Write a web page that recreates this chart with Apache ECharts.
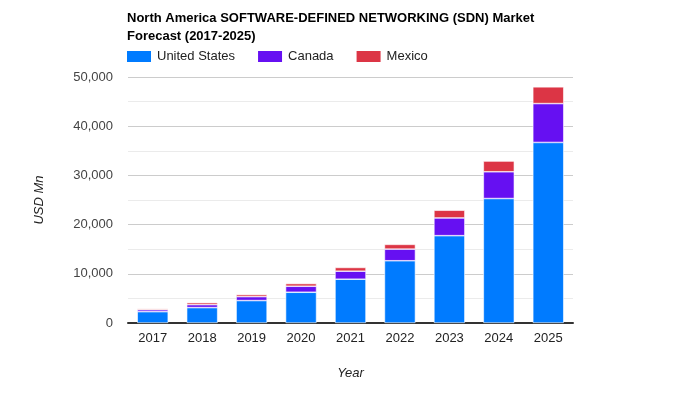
<!DOCTYPE html>
<html>
<head>
<meta charset="utf-8">
<script src="https://cdn.jsdelivr.net/npm/echarts@6/dist/echarts.min.js"></script>
<style>html,body{margin:0;padding:0;background:#fff}#c{width:700px;height:400px}</style>
</head>
<body>
<div id="c"></div>
<script>
var years = ['2017','2018','2019','2020','2021','2022','2023','2024','2025'];
var unitedStates = [2300, 3130, 4560, 6250, 8900, 12650, 17750, 25300, 36700];
var canada = [400, 600, 800, 1220, 1630, 2370, 3600, 5440, 7900];
var mexico = [220, 410, 420, 550, 760, 960, 1570, 2180, 3400];
var seriesNames = ['United States', 'Canada', 'Mexico'];
var colors = ['#007bff', '#6610f2', '#dc3545'];

var chart = echarts.init(document.getElementById('c'), null, {renderer: 'canvas'});
var font = 'Liberation Sans, Arial, sans-serif';
function bar(name, data, color) {
  return {
    name: name, type: 'bar', stack: 'total', data: data, barWidth: 31,
    itemStyle: {color: color, borderColor: '#fff', borderWidth: 0.6}
  };
}
chart.setOption({
  animation: false,
  textStyle: {fontFamily: font},
  title: {
    text: 'North America SOFTWARE-DEFINED NETWORKING (SDN) Market\nForecast (2017-2025)',
    left: 122, top: 4,
    textStyle: {fontSize: 13, fontWeight: 'bold', color: '#000', lineHeight: 18, fontFamily: font}
  },
  legend: {
    left: 120, top: 44, itemWidth: 26, itemHeight: 13, itemGap: 21,
    icon: 'rect',
    textStyle: {fontSize: 13, color: '#222', fontFamily: font},
    data: seriesNames
  },
  grid: {left: 128, right: 127, top: 77, bottom: 77},
  xAxis: {
    type: 'category', data: years,
    name: 'Year', nameLocation: 'middle', nameGap: 44,
    nameTextStyle: {fontStyle: 'italic', fontSize: 13, color: '#222', fontFamily: font},
    axisLine: {lineStyle: {color: '#333', width: 2}},
    axisTick: {show: false},
    axisLabel: {fontSize: 13, color: '#222', margin: 9, fontFamily: font}
  },
  yAxis: {
    type: 'value', min: 0, max: 50000, interval: 10000,
    name: 'USD Mn', nameLocation: 'middle', nameGap: 82, nameRotate: 90,
    nameTextStyle: {fontStyle: 'italic', fontSize: 13, color: '#222', fontFamily: font},
    axisLine: {show: false}, axisTick: {show: false},
    axisLabel: {fontSize: 13, color: '#444', margin: 15, fontFamily: font,
      formatter: function (v) { return v.toLocaleString('en-US'); }},
    splitLine: {lineStyle: {color: '#cccccc', width: 1}},
    minorTick: {show: false, splitNumber: 2},
    minorSplitLine: {show: true, lineStyle: {color: '#ebebeb', width: 1}}
  },
  series: [
    bar(seriesNames[0], unitedStates, colors[0]),
    bar(seriesNames[1], canada, colors[1]),
    bar(seriesNames[2], mexico, colors[2])
  ]
});
</script>
</body>
</html>
